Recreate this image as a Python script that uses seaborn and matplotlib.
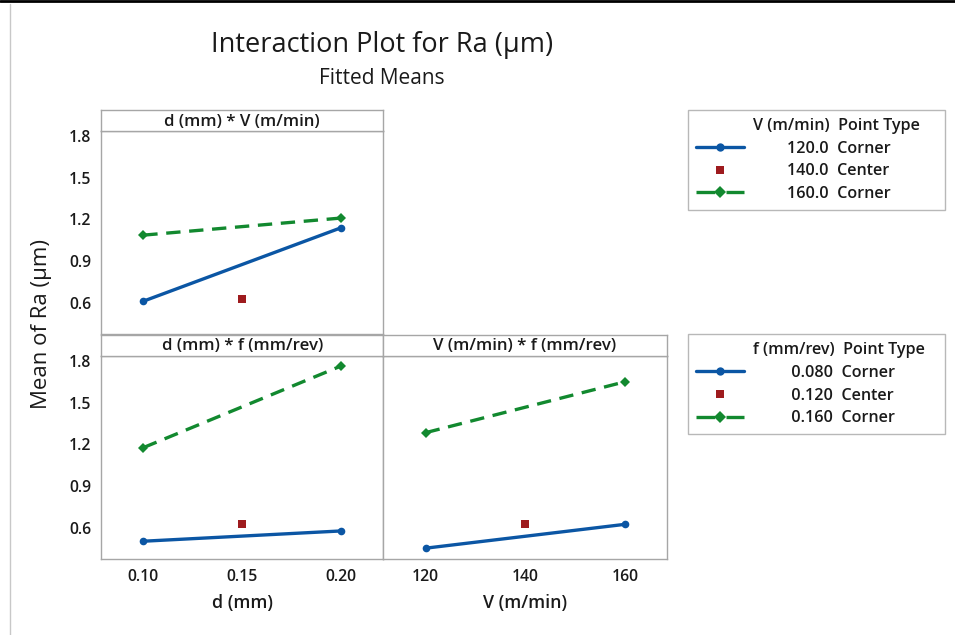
import matplotlib
matplotlib.use("Agg")
import matplotlib.pyplot as plt
import seaborn as sns
import pandas as pd
from matplotlib.lines import Line2D
from matplotlib.font_manager import FontProperties

# ---------------- data ----------------
d_levels = [0.10, 0.20]
V_levels = [120, 160]
d_center = 0.15
V_center = 140
dV_V120 = [0.612, 1.140]      # d*V panel, V = 120
dV_V160 = [1.087, 1.210]      # d*V panel, V = 160
df_f080 = [0.502, 0.576]      # d*f panel, f = 0.080
df_f160 = [1.176, 1.764]      # d*f panel, f = 0.160
Vf_f080 = [0.452, 0.624]      # V*f panel, f = 0.080
Vf_f160 = [1.284, 1.651]      # V*f panel, f = 0.160
center_mean = [0.625]
V_legend = ["120.0", "140.0", "160.0"]
f_legend = ["0.080", "0.120", "0.160"]
point_types = ["Corner", "Center", "Corner"]
y_ticks = [0.6, 0.9, 1.2, 1.5, 1.8]
d_ticks = [0.10, 0.15, 0.20]
V_ticks = [120, 140, 160]

# ---------------- style ----------------
sns.set_style("white")
FONT = "Open Sans"
plt.rcParams["font.family"] = [FONT, "DejaVu Sans"]
BLUE = "#0B56A4"
RED = "#9E1B1E"
GREEN = "#12892F"
GRAY = "#A6A6A6"
TXT = "#1A1A1A"
LW = 2.4
W, H = 955, 635

fig = plt.figure(figsize=(W / 100, H / 100), dpi=100)


def box(x0, y0, x1, y1):
    return [x0 / W, 1 - y1 / H, (x1 - x0) / W, (y1 - y0) / H]


ax_tl = fig.add_axes(box(101, 131, 383.3, 334.3))
ax_bl = fig.add_axes(box(101, 356, 383.3, 559))
ax_br = fig.add_axes(box(383.3, 356, 666.7, 559))

strips = [
    (box(101, 110, 383.3, 131), "d (mm) * V (m/min)"),
    (box(101, 334.7, 383.3, 356), "d (mm) * f (mm/rev)"),
    (box(383.3, 334.7, 666.7, 356), "V (m/min) * f (mm/rev)"),
]
for rect, label in strips:
    s = fig.add_axes(rect)
    s.set_xticks([]); s.set_yticks([])
    for sp in s.spines.values():
        sp.set_color(GRAY); sp.set_linewidth(1)
    s.text(0.5, 0.45, label, ha="center", va="center", fontsize=12.2,
           fontweight="semibold", color=TXT, transform=s.transAxes)


def panel(ax, x, low, high, lowlab, highlab, xc):
    df = pd.DataFrame({
        "x": list(x) * 2,
        "y": list(low) + list(high),
        "lvl": [lowlab] * len(x) + [highlab] * len(x),
    })
    sns.lineplot(data=df, x="x", y="y", hue="lvl", style="lvl",
                 palette={lowlab: BLUE, highlab: GREEN},
                 markers={lowlab: "o", highlab: "D"},
                 dashes={lowlab: "", highlab: (4.3, 2.6)},
                 linewidth=LW, markersize=5.5, markeredgewidth=0,
                 legend=False, errorbar=None, ax=ax)
    sns.scatterplot(x=[xc], y=center_mean, marker="s", color=RED, s=28,
                    linewidth=0, legend=False, ax=ax)
    ax.set_ylim(0.374, 1.836)
    ax.set_yticks(y_ticks)
    ax.set_xlabel(""); ax.set_ylabel("")
    for sp in ax.spines.values():
        sp.set_color(GRAY); sp.set_linewidth(1)
    ax.tick_params(axis="both", length=4, width=1, color=GRAY,
                   labelsize=11.3, labelcolor=TXT, pad=3)


panel(ax_tl, d_levels, dV_V120, dV_V160, "120", "160", d_center)
panel(ax_bl, d_levels, df_f080, df_f160, "0.080", "0.160", d_center)
panel(ax_br, V_levels, Vf_f080, Vf_f160, "0.080", "0.160", V_center)

for ax in (ax_tl, ax_bl):
    ax.set_xlim(0.0786, 0.2214)
    ax.set_xticks(d_ticks)
    ax.set_yticklabels([f"{v:.1f}" for v in y_ticks], fontweight="semibold")
ax_br.set_xlim(111.5, 168.3)
ax_br.set_xticks(V_ticks)

ax_tl.tick_params(axis="x", bottom=False, labelbottom=False)
ax_br.tick_params(axis="y", left=False, labelleft=False)
ax_bl.set_xticklabels([f"{v:.2f}" for v in d_ticks], fontweight="semibold")
ax_br.set_xticklabels([str(v) for v in V_ticks], fontweight="semibold")

ax_bl.set_xlabel("d (mm)", fontsize=12.8, fontweight="semibold", color=TXT, labelpad=7)
ax_br.set_xlabel("V (m/min)", fontsize=12.8, fontweight="semibold", color=TXT, labelpad=7)

fig.text(42 / W, 1 - 324 / H, "Mean of Ra (µm)", rotation=90, ha="center",
         va="center", fontsize=16, color=TXT)
fig.text(382 / W, 1 - 45 / H, "Interaction Plot for Ra (µm)", ha="center",
         va="center", fontsize=19.5, color=TXT)
fig.text(382 / W, 1 - 78 / H, "Fitted Means", ha="center", va="center",
         fontsize=15, color=TXT)

# ---------------- legends ----------------
LFS = 11.6
renderer = fig.canvas.get_renderer()
prop = FontProperties(family=[FONT, "DejaVu Sans"], size=LFS, weight="semibold")


def tw(s):
    return renderer.get_text_width_height_descent(s, prop, ismath=False)[0]


space_w = tw("a a") - tw("aa")


def make_legend(header, values, top):
    handles = [
        Line2D([], [], color="none"),
        Line2D([], [], color=BLUE, lw=LW, marker="o", ms=6, mew=0),
        Line2D([], [], color="none", marker="s", ms=6, mfc=RED, mec=RED, mew=0),
        Line2D([], [], color=GREEN, lw=LW, marker="D", ms=6, mew=0,
               linestyle=(0, (5.6, 3.4))),
    ]
    labels = [header + "  Point Type"]
    for v, pt in zip(values, point_types):
        n = max(0, int(round((tw(header) - tw(v)) / space_w)))
        labels.append(" " * n + v + "  " + pt)
    leg = fig.legend(handles, labels, loc="upper left",
                     bbox_to_anchor=(688 / W, 1 - top / H, (945 - 688) / W, 0),
                     bbox_transform=fig.transFigure, mode="expand",
                     borderaxespad=0, frameon=True, fancybox=False,
                     edgecolor=GRAY, fontsize=LFS, handlelength=2.95,
                     handletextpad=0.6, borderpad=0.5, labelspacing=0.41,
                     numpoints=1)
    leg.get_frame().set_linewidth(1)
    for t in leg.get_texts():
        t.set_color(TXT)
        t.set_fontweight("semibold")
    return leg


make_legend("V (m/min)", V_legend, 110)
make_legend("f (mm/rev)", f_legend, 334.3)

# screenshot frame lines
fig.add_artist(Line2D([0, 1], [1 - 1 / H, 1 - 1 / H], transform=fig.transFigure,
                      color="black", lw=2))
fig.add_artist(Line2D([9.5 / W, 9.5 / W], [0, 1 - 4 / H], transform=fig.transFigure,
                      color="#C8C8C8", lw=1))

fig.savefig("out.png", dpi=100)
